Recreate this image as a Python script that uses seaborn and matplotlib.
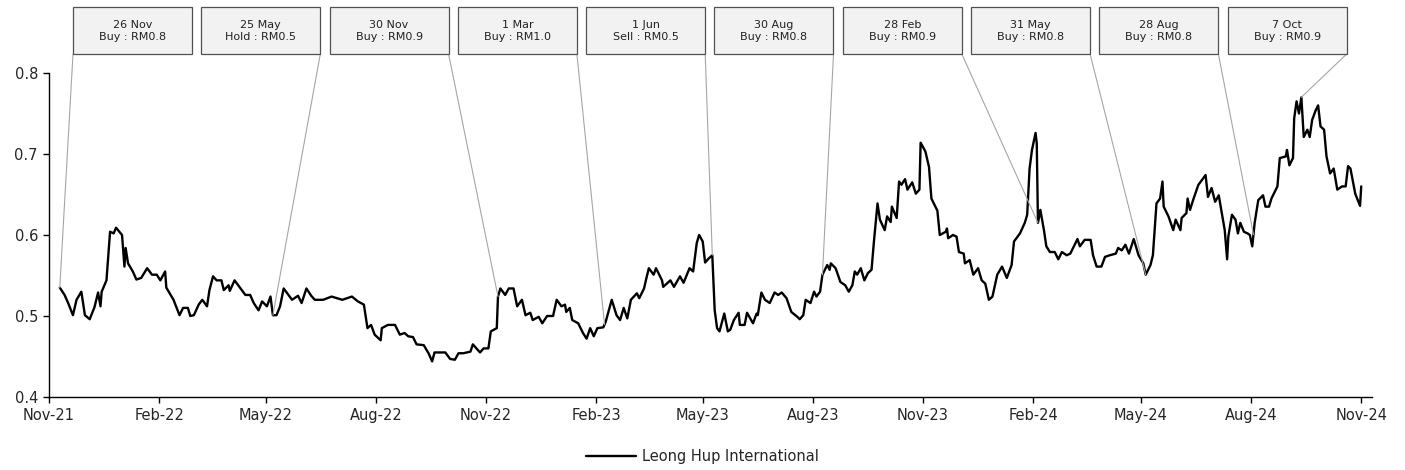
import numpy as np
import pandas as pd
import seaborn as sns
import matplotlib.pyplot as plt
import matplotlib.dates as mdates
from matplotlib.patches import Rectangle

# Leong Hup International share price, Nov-21 to Nov-24
# days after 1 Nov 2021 / price (RM)
days = [9, 13, 16, 20, 23, 27, 30, 34, 38, 41, 43, 44, 48, 51, 54, 56, 61, 63, 64, 66,
        70, 73, 77, 82, 86, 90, 93, 97, 98, 104, 109, 112, 116, 118, 121, 125, 128, 132, 134, 137,
        140, 144, 146, 150, 151, 155, 161, 164, 168, 171, 175, 178, 182, 185, 187, 190, 193, 196, 200, 203,
        208, 211, 215, 219, 222, 229, 236, 245, 253, 258, 263, 266, 269, 272, 277, 278, 283, 289, 293, 297,
        300, 304, 307, 313, 317, 320, 322, 327, 331, 335, 339, 342, 346, 352, 354, 360, 363, 367, 369, 374,
        375, 377, 381, 384, 388, 391, 395, 398, 402, 404, 409, 412, 416, 421, 424, 428, 431, 432, 435, 437,
        442, 446, 449, 452, 455, 458, 463, 465, 470, 474, 477, 480, 483, 486, 491, 493, 497, 499, 501, 505,
        507, 512, 513, 519, 522, 527, 530, 535, 538, 541, 543, 546, 548, 551, 554, 556, 558, 560, 564, 567,
        569, 572, 576, 577, 581, 583, 588, 591, 592, 595, 598, 602, 606, 609, 612, 616, 620, 625, 627, 630,
        632, 636, 639, 641, 644, 646, 650, 652, 653, 657, 661, 665, 668, 671, 673, 675, 678, 681, 684, 687,
        689, 692, 694, 698, 700, 703, 704, 708, 710, 712, 715, 717, 721, 724, 727, 728, 732, 735, 737, 742,
        744, 749, 750, 751, 755, 758, 760, 764, 765, 769, 772, 776, 779, 782, 785, 788, 792, 796, 800, 804,
        806, 811, 815, 817, 819, 821, 824, 825, 826, 828, 831, 833, 836, 840, 843, 846, 850, 853, 859, 861,
        865, 870, 872, 875, 879, 882, 886, 891, 893, 896, 899, 902, 906, 910, 914, 916, 920, 922, 925, 928,
        930, 931, 935, 939, 941, 945, 946, 950, 951, 953, 956, 960, 964, 966, 968, 971, 974, 977, 980, 982,
        984, 985, 988, 991, 993, 995, 998, 1001, 1003, 1005, 1007, 1010, 1014, 1016, 1019, 1021, 1026, 1028, 1033, 1034,
        1036, 1039, 1040, 1042, 1044, 1046, 1048, 1051, 1053, 1055, 1058, 1060, 1062, 1065, 1067, 1070, 1073, 1076, 1080, 1083,
        1085, 1087, 1091, 1095, 1096]
price = [0.535, 0.526, 0.516, 0.501, 0.520, 0.530, 0.501, 0.496, 0.511, 0.529, 0.512, 0.530, 0.544, 0.604, 0.602, 0.609, 0.600, 0.561, 0.584, 0.565,
         0.555, 0.545, 0.547, 0.559, 0.551, 0.551, 0.544, 0.555, 0.535, 0.520, 0.501, 0.510, 0.510, 0.500, 0.501, 0.514, 0.520, 0.512, 0.532, 0.549,
         0.544, 0.544, 0.532, 0.538, 0.531, 0.544, 0.532, 0.526, 0.526, 0.516, 0.507, 0.518, 0.512, 0.524, 0.501, 0.501, 0.512, 0.534, 0.526, 0.520,
         0.525, 0.516, 0.534, 0.525, 0.520, 0.520, 0.524, 0.520, 0.524, 0.518, 0.514, 0.485, 0.489, 0.477, 0.470, 0.485, 0.489, 0.489, 0.477, 0.479,
         0.475, 0.474, 0.465, 0.464, 0.454, 0.444, 0.455, 0.455, 0.455, 0.447, 0.446, 0.454, 0.454, 0.456, 0.465, 0.455, 0.460, 0.460, 0.481, 0.485,
         0.524, 0.534, 0.526, 0.534, 0.534, 0.512, 0.520, 0.501, 0.504, 0.495, 0.499, 0.491, 0.500, 0.500, 0.520, 0.512, 0.514, 0.505, 0.510, 0.495,
         0.491, 0.479, 0.472, 0.485, 0.475, 0.485, 0.486, 0.493, 0.520, 0.501, 0.495, 0.510, 0.497, 0.520, 0.528, 0.522, 0.534, 0.547, 0.559, 0.551,
         0.559, 0.544, 0.536, 0.544, 0.536, 0.549, 0.541, 0.559, 0.555, 0.590, 0.600, 0.592, 0.566, 0.571, 0.575, 0.507, 0.485, 0.481, 0.503, 0.481,
         0.483, 0.495, 0.504, 0.489, 0.489, 0.504, 0.491, 0.503, 0.501, 0.529, 0.520, 0.516, 0.529, 0.526, 0.529, 0.522, 0.505, 0.499, 0.496, 0.501,
         0.520, 0.516, 0.530, 0.524, 0.530, 0.551, 0.563, 0.557, 0.565, 0.559, 0.542, 0.538, 0.530, 0.538, 0.555, 0.551, 0.559, 0.544, 0.553, 0.557,
         0.592, 0.639, 0.619, 0.606, 0.623, 0.616, 0.635, 0.621, 0.666, 0.662, 0.669, 0.656, 0.665, 0.651, 0.656, 0.714, 0.703, 0.684, 0.645, 0.630,
         0.600, 0.604, 0.608, 0.596, 0.600, 0.598, 0.579, 0.577, 0.565, 0.569, 0.551, 0.559, 0.544, 0.540, 0.520, 0.524, 0.551, 0.561, 0.547, 0.563,
         0.592, 0.602, 0.615, 0.625, 0.682, 0.705, 0.726, 0.713, 0.615, 0.631, 0.606, 0.586, 0.579, 0.579, 0.570, 0.579, 0.575, 0.577, 0.595, 0.586,
         0.594, 0.594, 0.575, 0.561, 0.561, 0.573, 0.575, 0.577, 0.584, 0.581, 0.588, 0.577, 0.595, 0.575, 0.565, 0.551, 0.563, 0.575, 0.639, 0.645,
         0.666, 0.635, 0.623, 0.606, 0.619, 0.606, 0.621, 0.627, 0.645, 0.631, 0.645, 0.662, 0.670, 0.674, 0.647, 0.658, 0.641, 0.649, 0.623, 0.606,
         0.570, 0.598, 0.625, 0.619, 0.602, 0.615, 0.604, 0.602, 0.600, 0.586, 0.615, 0.643, 0.649, 0.635, 0.635, 0.645, 0.660, 0.695, 0.697, 0.705,
         0.686, 0.695, 0.744, 0.765, 0.750, 0.770, 0.721, 0.730, 0.721, 0.742, 0.754, 0.760, 0.734, 0.730, 0.697, 0.676, 0.682, 0.656, 0.660, 0.660,
         0.685, 0.682, 0.651, 0.636, 0.660]

# rating calls
call_dates = ['26 Nov', '25 May', '30 Nov', '1 Mar', '1 Jun', '30 Aug', '28 Feb', '31 May', '28 Aug', '7 Oct']
call_recs = ['Buy : RM0.8', 'Hold : RM0.5', 'Buy : RM0.9', 'Buy : RM1.0', 'Sell : RM0.5',
             'Buy : RM0.8', 'Buy : RM0.9', 'Buy : RM0.8', 'Buy : RM0.8', 'Buy : RM0.9']
call_days = [9, 187, 375, 464, 554, 646, 826, 916, 1006, 1046]

start = pd.Timestamp('2021-11-01')
df = pd.DataFrame({'date': start + pd.to_timedelta(days, unit='D'), 'price': price})

sns.set_style('ticks')
plt.rcParams['font.family'] = ['DejaVu Sans']

W, H = 1405, 470
fig = plt.figure(figsize=(W / 100, H / 100), dpi=100)
ax = fig.add_axes([49 / W, 1 - 397 / H, 1323 / W, 324 / H])

sns.lineplot(data=df, x='date', y='price', color='black', linewidth=1.7, ax=ax,
             label='Leong Hup International', legend=False)

ax.set_ylim(0.4, 0.8)
ax.set_yticks([0.4, 0.5, 0.6, 0.7, 0.8])
ax.yaxis.set_major_formatter(plt.FormatStrFormatter('%.1f'))
ax.set_xlim(start, pd.Timestamp('2024-11-10'))
ax.xaxis.set_major_locator(mdates.MonthLocator(bymonth=[2, 5, 8, 11]))
ax.xaxis.set_major_formatter(mdates.DateFormatter('%b-%y'))
ax.set_xlabel('')
ax.set_ylabel('')
ax.tick_params(axis='both', labelsize=10.5, length=4, width=1, color='black', pad=4)
sns.despine(ax=ax)
for s in ['left', 'bottom']:
    ax.spines[s].set_color('black')
    ax.spines[s].set_linewidth(1)

# callout boxes above the plot, leaders down to the series
box_w, box_h = 119, 47
box_top = 7
for i, (d, r, cd) in enumerate(zip(call_dates, call_recs, call_days)):
    x0 = 73 + i * 128.3
    fig.add_artist(Rectangle((x0 / W, 1 - (box_top + box_h) / H), box_w / W, box_h / H,
                             transform=fig.transFigure, facecolor='#f2f2f2',
                             edgecolor='#505050', linewidth=0.9))
    fig.text((x0 + box_w / 2) / W, 1 - (box_top + box_h / 2) / H, d + '\n' + r,
             ha='center', va='center', fontsize=8, linespacing=1.25, color='#222222')
    cx = x0 if i == 0 else x0 + box_w
    target = start + pd.Timedelta(days=cd)
    yv = np.interp(cd, days, price)
    ax.annotate('', xy=(mdates.date2num(target), yv), xycoords='data',
                xytext=(cx / W, 1 - (box_top + box_h) / H), textcoords='figure fraction',
                arrowprops=dict(arrowstyle='-', color='#a6a6a6', lw=0.8,
                                shrinkA=0, shrinkB=0),
                annotation_clip=False)

handles, labels = ax.get_legend_handles_labels()
fig.legend(handles, labels, loc='center', bbox_to_anchor=(0.5, 1 - 457 / H),
           frameon=False, fontsize=10.5, handlelength=3.4, handletextpad=0.4)

fig.savefig('out.png', dpi=100, facecolor='white')
